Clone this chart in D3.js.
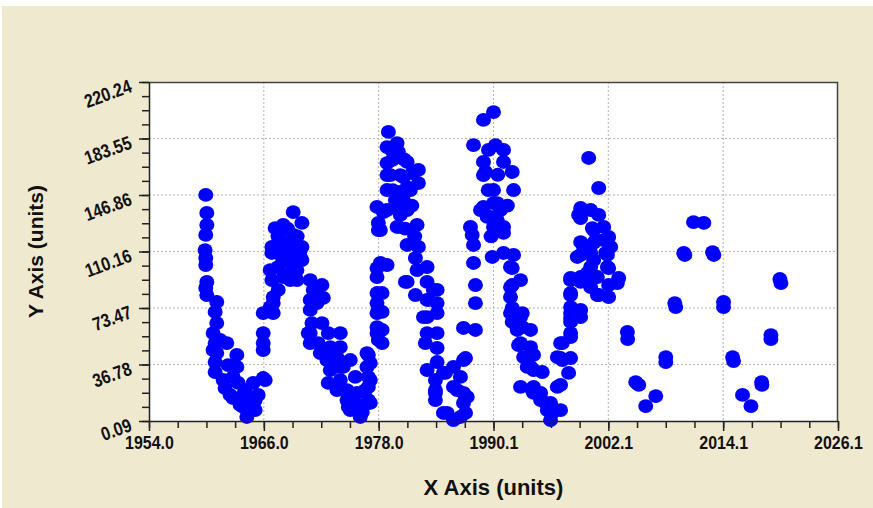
<!DOCTYPE html>
<html>
<head>
<meta charset="utf-8">
<script src="https://cdn.jsdelivr.net/npm/d3@7"></script>
<style>
	body { margin: 0; background: #ffffff; }
	svg { display: block; }
</style>
</head>
<body>
<div id="chart"></div>
<script>
(function () {
	'use strict';

	var xTickLabels = ["1954.0", "1966.0", "1978.0", "1990.1", "2002.1", "2014.1", "2026.1"];
	var yTickLabels = ["0.09", "36.78", "73.47", "110.16", "146.86", "183.55", "220.24"];

	// [year, value]
	var series1960 = [
		[1959.94, 146.9], [1960.05, 135.2], [1960.05, 127.4], [1959.94, 120.9], [1959.87, 111.1],
		[1959.94, 105.9], [1959.94, 101.4], [1960.05, 90.4], [1959.94, 86.5], [1960.05, 81.9],
		[1961.09, 77.4], [1960.92, 70.9], [1961.09, 63.7], [1960.71, 57.2], [1960.92, 50.7],
		[1962.14, 50.7], [1960.71, 46.2], [1961.09, 44.2], [1963.19, 43.0], [1960.92, 38.4],
		[1960.92, 31.9], [1963.19, 35.2], [1961.76, 26.7], [1962.80, 28.7], [1961.96, 21.5],
		[1963.33, 24.8], [1962.80, 15.0], [1963.85, 17.0], [1963.85, 9.2], [1964.24, 2.7],
		[1965.11, 7.2], [1965.11, 13.7], [1964.90, 24.8], [1966.16, 26.7], [1961.44, 52.7],
		[1962.28, 36.4], [1962.49, 17.0], [1963.54, 10.5], [1964.38, 5.9], [1964.58, 13.7],
		[1965.42, 17.0], [1964.06, 20.2]
	];

	var series1966 = [
		[1965.95, 28.0], [1965.95, 46.2], [1965.95, 50.7], [1965.95, 57.2], [1965.95, 70.2],
		[1967.00, 70.2], [1966.68, 74.1], [1967.00, 76.7], [1967.00, 80.6], [1967.52, 85.2],
		[1966.86, 91.6], [1968.04, 93.6], [1968.78, 91.6], [1966.68, 98.1], [1969.48, 98.1],
		[1966.86, 109.2], [1966.86, 113.1], [1969.82, 111.1], [1970.00, 104.6], [1969.09, 120.9],
		[1967.20, 125.4], [1968.04, 127.4], [1970.00, 128.7], [1969.09, 135.8], [1969.82, 106.6],
		[1969.48, 91.6], [1969.09, 100.1], [1970.00, 113.1], [1968.25, 111.1], [1967.73, 117.6],
		[1968.57, 103.3], [1968.78, 114.4], [1967.50, 120.0], [1968.50, 125.0], [1968.00, 105.0],
		[1969.00, 110.0], [1967.50, 100.0], [1968.50, 95.0], [1969.50, 120.0],
		[1970.87, 91.6], [1971.57, 85.2], [1972.10, 88.4], [1972.24, 80.0], [1971.57, 76.7],
		[1970.87, 72.2], [1971.05, 63.7], [1970.87, 57.2], [1972.10, 63.7], [1972.76, 57.2],
		[1974.02, 57.2], [1970.87, 50.7], [1971.71, 50.7], [1972.97, 48.1], [1974.02, 48.1],
		[1972.24, 44.9], [1972.62, 39.7], [1973.67, 41.6], [1975.06, 39.7], [1972.97, 33.2],
		[1974.02, 35.2], [1972.76, 24.8], [1974.02, 26.7], [1973.67, 20.2], [1974.72, 20.2],
		[1974.72, 13.7], [1975.38, 13.7], [1975.06, 7.2], [1976.11, 2.7], [1975.59, 28.7],
		[1976.81, 35.2], [1976.81, 44.2], [1977.16, 26.7], [1977.16, 11.8], [1974.86, 15.7],
		[1975.77, 18.3], [1974.86, 9.2], [1975.77, 9.2], [1976.95, 22.2], [1976.95, 13.7],
		[1977.16, 37.7], [1974.33, 35.2], [1973.28, 41.6], [1971.92, 44.2], [1970.66, 57.2],
		[1971.19, 85.2], [1970.87, 78.7], [1976.32, 5.9], [1976.53, 10.5], [1976.95, 43.0],
		[1976.95, 28.7], [1976.64, 20.2]
	];

	var series1977 = [
		[1977.86, 57.2], [1977.86, 61.1], [1977.86, 70.2], [1977.86, 76.7], [1977.86, 83.2],
		[1978.00, 72.2], [1978.00, 52.7], [1977.86, 93.6], [1977.86, 99.4], [1978.21, 102.7],
		[1978.00, 124.1], [1978.00, 128.7], [1977.86, 139.1], [1978.52, 135.8], [1978.91, 101.4],
		[1978.39, 83.2], [1978.39, 70.9], [1978.39, 59.2], [1978.39, 50.7],
		[1979.05, 187.8], [1979.96, 180.6], [1978.91, 178.0], [1980.10, 174.8], [1978.91, 167.6],
		[1981.01, 168.3], [1982.19, 163.1], [1978.91, 159.8], [1980.30, 159.8], [1981.53, 161.1],
		[1982.19, 154.6], [1978.91, 150.1], [1980.30, 148.8], [1981.01, 152.0], [1978.91, 137.1],
		[1979.96, 139.1], [1981.01, 137.1], [1978.21, 124.1], [1979.96, 126.1], [1982.05, 127.4],
		[1981.01, 114.4], [1982.19, 113.1], [1981.88, 105.9], [1983.10, 100.1], [1982.05, 98.1],
		[1981.01, 90.4], [1983.10, 90.4], [1984.15, 85.2], [1981.88, 81.9], [1983.10, 78.7],
		[1984.15, 76.7], [1983.10, 67.6], [1984.15, 70.2], [1983.10, 57.2], [1984.15, 57.2],
		[1982.92, 50.7], [1984.15, 47.5], [1984.15, 38.4], [1983.10, 33.2], [1983.97, 26.7],
		[1983.97, 20.2], [1983.97, 13.7], [1984.81, 5.3], [1985.86, 0.7], [1985.02, 31.3],
		[1985.86, 35.2], [1986.91, 39.7], [1985.86, 22.2], [1986.91, 18.3], [1986.91, 11.8],
		[1987.12, 5.3], [1986.59, 28.7], [1985.20, 5.3], [1986.59, 2.7], [1986.25, 20.2],
		[1987.12, 41.0], [1987.30, 15.7], [1979.78, 143.6], [1980.30, 133.9], [1980.62, 158.5],
		[1979.26, 159.8], [1980.83, 90.4], [1983.76, 85.2], [1983.24, 78.7], [1982.72, 67.6],
		[1984.81, 31.3], [1983.97, 18.3], [1980.10, 126.1], [1979.47, 169.6], [1980.62, 143.6],
		[1981.35, 150.1], [1979.50, 175.0], [1980.70, 170.0], [1981.50, 140.0], [1979.50, 150.0],
		[1980.80, 125.0], [1981.80, 120.0]
	];

	var series1987 = [
		[1986.91, 60.5], [1988.16, 59.2], [1988.16, 76.7], [1988.16, 88.4], [1987.96, 102.7],
		[1987.96, 114.4], [1987.64, 126.1], [1987.82, 120.9], [1987.96, 179.3], [1989.00, 195.6],
		[1990.05, 200.7], [1989.00, 168.3], [1989.00, 159.8], [1990.26, 179.3], [1991.10, 176.1],
		[1991.10, 168.3], [1992.01, 161.8], [1989.21, 161.8], [1989.53, 176.1], [1990.05, 150.1],
		[1992.15, 150.1], [1989.00, 139.1], [1990.05, 141.6], [1990.78, 137.1], [1989.39, 132.6],
		[1990.05, 126.1], [1991.10, 122.2], [1988.69, 137.1], [1989.92, 106.6], [1991.10, 109.2],
		[1992.15, 107.9], [1991.83, 100.1], [1992.88, 91.6], [1991.83, 87.1], [1991.83, 80.6],
		[1991.83, 70.2], [1992.88, 67.6], [1992.53, 59.2], [1993.93, 59.2], [1992.67, 49.4],
		[1993.93, 48.1], [1993.20, 41.6], [1994.24, 43.0], [1993.93, 35.2], [1995.15, 31.9],
		[1992.88, 22.2], [1994.24, 18.3], [1994.98, 13.7], [1995.68, 7.2], [1996.02, 0.7],
		[1996.20, 5.3], [1996.73, 22.2], [1996.73, 41.6], [1994.11, 20.2], [1995.50, 11.8],
		[1994.98, 18.3], [1993.06, 70.2], [1992.01, 64.4], [1993.06, 61.1], [1992.88, 50.7],
		[1993.58, 35.2], [1992.01, 99.4], [1992.01, 88.4], [1992.01, 73.5], [1990.44, 141.6],
		[1990.44, 130.6], [1991.10, 126.1], [1989.74, 132.6], [1994.24, 33.2], [1994.24, 22.2],
		[1996.02, 11.8], [1989.50, 150.0], [1990.50, 160.0], [1991.50, 140.0], [1989.80, 120.0]
	];

	var series1997 = [
		[1997.07, 50.7], [1998.12, 54.6], [1997.25, 39.7], [1998.12, 41.0], [1997.91, 31.3],
		[1997.07, 23.5], [1997.07, 7.2], [1998.12, 67.0], [1999.17, 67.6], [1998.12, 74.1],
		[1999.17, 72.2], [1998.12, 83.2], [1998.12, 91.6], [1999.17, 90.4], [1998.82, 106.6],
		[1999.17, 116.3], [1998.96, 133.9], [1999.17, 138.4], [2000.22, 137.1], [2001.06, 133.9],
		[2000.01, 170.9], [2001.06, 151.4], [1999.48, 113.1], [2000.53, 115.7], [2000.53, 104.6],
		[2001.58, 117.6], [2001.79, 109.2], [2001.97, 100.1], [2000.92, 93.6], [2001.06, 81.9],
		[1999.87, 96.2], [2000.22, 87.1], [2001.58, 126.1], [2000.53, 124.1], [1999.17, 131.9],
		[2000.39, 125.4], [2002.10, 119.6], [2000.74, 117.6], [2002.31, 113.1], [1999.17, 107.9],
		[2000.22, 109.2], [2001.97, 107.9], [2000.22, 100.1], [2002.10, 99.4], [2003.15, 93.0],
		[1998.12, 93.0], [1999.17, 93.6], [2000.01, 89.7], [2002.10, 88.4], [2003.01, 89.7],
		[2000.92, 81.9], [2002.10, 80.6], [1998.12, 81.9], [1998.12, 70.2], [1998.12, 64.4],
		[1998.12, 57.2], [1997.25, 50.7], [1997.07, 41.0]
	];

	var series2004 = [
		[2004.06, 57.9], [2004.09, 53.3], [2004.93, 25.4], [2005.25, 23.5], [2005.98, 9.8],
		[2007.03, 16.3], [2008.08, 41.6], [2008.08, 38.4], [2009.02, 76.7], [2009.12, 74.1],
		[2009.96, 109.2], [2010.07, 107.9], [2010.98, 129.3], [2012.06, 128.7], [2012.97, 109.8],
		[2013.11, 107.9], [2014.12, 77.4], [2014.12, 74.1], [2015.07, 41.6], [2015.17, 39.0],
		[2016.11, 17.0], [2016.99, 9.8], [2018.11, 25.4], [2018.14, 23.5], [2019.08, 55.9],
		[2019.08, 53.3], [2020.02, 92.3], [2020.13, 89.7]
	];

	var options = {
		width: 873,
		height: 508,
		margin: {
			top: 82,
			right: 35,
			bottom: 87,
			left: 149
		},
		xDomain: [1954.0, 2026.1],
		yDomain: [0.09, 220.24],
		background: "#efe9d0",
		color: "#0000ff",
		font: "'Liberation Sans', Arial, sans-serif"
	};

	var plotWidth = options.width - options.margin.left - options.margin.right;
	var plotHeight = options.height - options.margin.top - options.margin.bottom;
	var data = [].concat(series1960, series1966, series1977, series1987, series1997, series2004);

	var x = d3.scaleLinear()
		.domain(options.xDomain)
		.range([0, plotWidth]);
	var y = d3.scaleLinear()
		.domain(options.yDomain)
		.range([plotHeight, 0]);

	// evenly spaced major ticks, 4 steps between them for the minor ones
	var xMajor = d3.range(7).map(function (i) {
		return options.xDomain[0] + i * (options.xDomain[1] - options.xDomain[0]) / 6;
	});
	var xMinor = d3.range(25).map(function (i) {
		return options.xDomain[0] + i * (options.xDomain[1] - options.xDomain[0]) / 24;
	});
	var yMajor = d3.range(7).map(function (i) {
		return options.yDomain[0] + i * (options.yDomain[1] - options.yDomain[0]) / 6;
	});
	var yMinor = d3.range(25).map(function (i) {
		return options.yDomain[0] + i * (options.yDomain[1] - options.yDomain[0]) / 24;
	});

	var svg = d3.select("#chart").append("svg")
		.attr("width", options.width)
		.attr("height", options.height);

	svg.append("rect")
		.attr("x", 2)
		.attr("y", 6)
		.attr("width", options.width - 2)
		.attr("height", options.height - 6)
		.attr("fill", options.background);

	var g = svg.append("g")
		.attr("transform", "translate(" + options.margin.left + "," + options.margin.top + ")");

	g.append("rect")
		.attr("width", plotWidth)
		.attr("height", plotHeight)
		.attr("fill", "#ffffff");

	//grid lines
	var grid = g.append("g")
		.attr("class", "grid");

	grid.selectAll("line.gx")
		.data(xMajor.slice(1, -1))
		.enter()
		.append("line")
		.attr("class", "gx")
		.attr("x1", function (d) { return x(d); })
		.attr("x2", function (d) { return x(d); })
		.attr("y1", 0)
		.attr("y2", plotHeight);

	grid.selectAll("line.gy")
		.data(yMajor.slice(1, -1))
		.enter()
		.append("line")
		.attr("class", "gy")
		.attr("x1", 0)
		.attr("x2", plotWidth)
		.attr("y1", function (d) { return y(d); })
		.attr("y2", function (d) { return y(d); });

	grid.selectAll("line")
		.attr("stroke", "#b4b4b4")
		.attr("stroke-dasharray", "2,2");

	//frame top and right
	g.append("path")
		.attr("d", "M0,0.5H" + (plotWidth - 0.5) + "V" + plotHeight)
		.attr("fill", "none")
		.attr("stroke", "#444444")
		.attr("stroke-width", 1.5);

	//points
	g.append("g")
		.selectAll("ellipse")
		.data(data)
		.enter()
		.append("ellipse")
		.attr("cx", function (d) { return x(d[0]); })
		.attr("cy", function (d) { return y(d[1]); })
		.attr("rx", 7.5)
		.attr("ry", 6.9)
		.attr("fill", options.color);

	//bottom axis
	g.append("g")
		.attr("transform", "translate(0," + plotHeight + ")")
		.call(d3.axisBottom(x).tickValues(xMinor).tickSize(7).tickSizeOuter(0).tickFormat(""))
		.call(function (sel) { sel.select(".domain").remove(); });

	var xAxis = g.append("g")
		.attr("transform", "translate(0," + plotHeight + ")")
		.call(d3.axisBottom(x)
			.tickValues(xMajor)
			.tickSize(10)
			.tickSizeOuter(0)
			.tickFormat(function (d, i) { return xTickLabels[i]; }));

	xAxis.selectAll("text")
		.attr("y", 15)
		.attr("dy", "0.71em")
		.attr("transform", "scale(0.84,1)")
		.style("font-family", options.font)
		.style("font-weight", "bold")
		.style("font-size", "19px")
		.attr("fill", "#111111");

	//left axis
	g.append("g")
		.call(d3.axisLeft(y).tickValues(yMinor).tickSize(7).tickSizeOuter(0).tickFormat(""))
		.call(function (sel) { sel.select(".domain").remove(); });

	var yAxis = g.append("g")
		.call(d3.axisLeft(y)
			.tickValues(yMajor)
			.tickSize(10)
			.tickSizeOuter(0)
			.tickFormat(function (d, i) { return yTickLabels[i]; }));

	yAxis.selectAll("text")
		.attr("x", null)
		.attr("dy", null)
		.attr("transform", "translate(-16,9) rotate(-20) scale(0.84,1)")
		.style("font-family", options.font)
		.style("font-weight", "bold")
		.style("font-size", "19px")
		.attr("fill", "#111111");

	svg.selectAll(".domain, .tick line")
		.attr("stroke", "#222222")
		.attr("stroke-width", 1.5);

	//axis titles
	svg.append("text")
		.attr("x", options.margin.left + plotWidth / 2)
		.attr("y", 495)
		.attr("text-anchor", "middle")
		.style("font-family", options.font)
		.style("font-weight", "bold")
		.style("font-size", "22px")
		.attr("fill", "#111111")
		.text("X Axis (units)");

	svg.append("text")
		.attr("transform", "translate(43," + (options.margin.top + plotHeight / 2) + ") rotate(-90)")
		.attr("text-anchor", "middle")
		.style("font-family", options.font)
		.style("font-weight", "bold")
		.style("font-size", "21px")
		.attr("fill", "#111111")
		.text("Y Axis (units)");
})();
</script>
</body>
</html>
